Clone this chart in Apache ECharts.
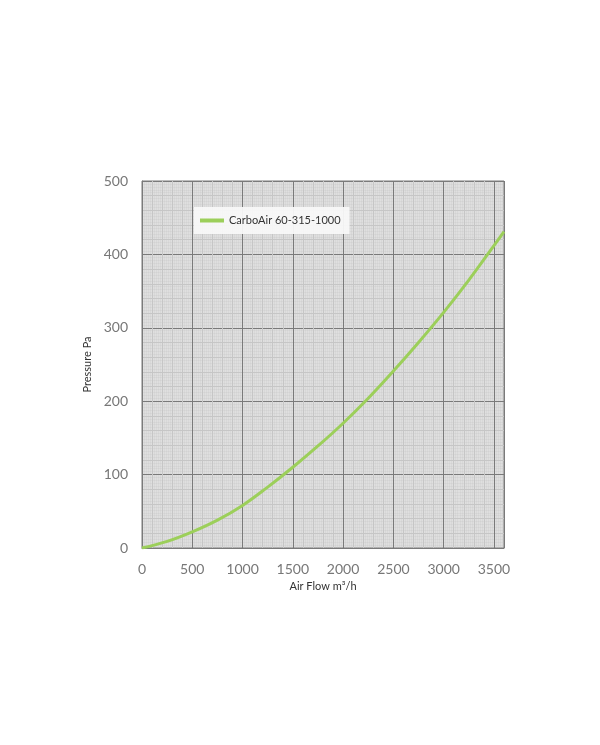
<!DOCTYPE html>
<html><head><meta charset="utf-8">
<script src="https://cdn.jsdelivr.net/npm/echarts@6/dist/echarts.min.js"></script>
<style>html,body{margin:0;padding:0;background:#fff}#c{width:600px;height:745px}</style>
</head><body><div id="c"></div>
<script>
const seriesName = 'CarboAir 60-315-1000';
const airFlow = [0, 250, 500, 750, 1000, 1250, 1500, 1750, 2000, 2250, 2500, 2750, 3000, 3250, 3500, 3600];
const pressure = [0, 9, 22, 38, 58, 83, 110, 139, 170, 204, 241, 280, 321, 365, 412, 431];
const xTitle = 'Air Flow m³/h';
const yTitle = 'Pressure Pa';

const chart = echarts.init(document.getElementById('c'));
const font = 'Lato, "Open Sans", sans-serif';
const gridPos = {left: 142, top: 181, width: 362, height: 367};
chart.setOption({
  animation: false,
  grid: Object.assign({show: true, backgroundColor: '#dfdfdf', borderColor: '#7a7a7a', borderWidth: 1}, gridPos),
  legend: {
    left: 194, top: 207, orient: 'horizontal',
    backgroundColor: 'rgba(248,248,248,0.95)',
    padding: [8, 9, 8, 6],
    itemWidth: 24, itemHeight: 4, icon: 'rect',
    textStyle: {fontFamily: font, fontSize: 11, color: '#333'},
    data: [seriesName]
  },
  xAxis: [{
    type: 'value', min: 0, max: 3600, interval: 500,
    axisLine: {show: true, lineStyle: {color: '#7a7a7a'}},
    axisTick: {show: false},
    axisLabel: {fontFamily: font, fontSize: 14, color: '#777', margin: 14,
      showMaxLabel: false, formatter: v => String(v)},
    splitLine: {show: true, lineStyle: {color: '#7a7a7a', width: 1}},
    minorTick: {show: false, splitNumber: 5},
    minorSplitLine: {show: true, lineStyle: {color: '#c6c6c6', width: 1}},
    name: xTitle, nameLocation: 'middle', nameGap: 33,
    nameTextStyle: {fontFamily: font, fontSize: 11, color: '#333'},
    z: 3
  }, {
    type: 'value', min: 0, max: 3600, interval: 20, position: 'top',
    axisLine: {show: false}, axisTick: {show: false}, axisLabel: {show: false},
    splitLine: {show: true, lineStyle: {color: 'rgba(190,190,190,0.22)', width: 1}},
    z: 1
  }],
  yAxis: [{
    type: 'value', min: 0, max: 500, interval: 100,
    axisLine: {show: true, lineStyle: {color: '#7a7a7a'}},
    axisTick: {show: false},
    axisLabel: {fontFamily: font, fontSize: 14, color: '#777', margin: 14},
    splitLine: {show: true, lineStyle: {color: '#7a7a7a', width: 1}},
    minorTick: {show: false, splitNumber: 5},
    minorSplitLine: {show: true, lineStyle: {color: '#c6c6c6', width: 1}},
    name: yTitle, nameLocation: 'middle', nameGap: 37,
    nameTextStyle: {fontFamily: font, fontSize: 11, color: '#333'},
    z: 3
  }, {
    type: 'value', min: 0, max: 500, interval: 4, position: 'right',
    axisLine: {show: false}, axisTick: {show: false}, axisLabel: {show: false},
    splitLine: {show: true, lineStyle: {color: 'rgba(190,190,190,0.18)', width: 1}},
    z: 1
  }],
  series: [{
    name: seriesName, type: 'line', smooth: 0.4, symbol: 'none',
    xAxisIndex: 0, yAxisIndex: 0,
    lineStyle: {color: '#9ccf5a', width: 3},
    itemStyle: {color: '#9ccf5a'},
    data: airFlow.map((x, i) => [x, pressure[i]]),
    z: 5
  }]
});
</script></body></html>
